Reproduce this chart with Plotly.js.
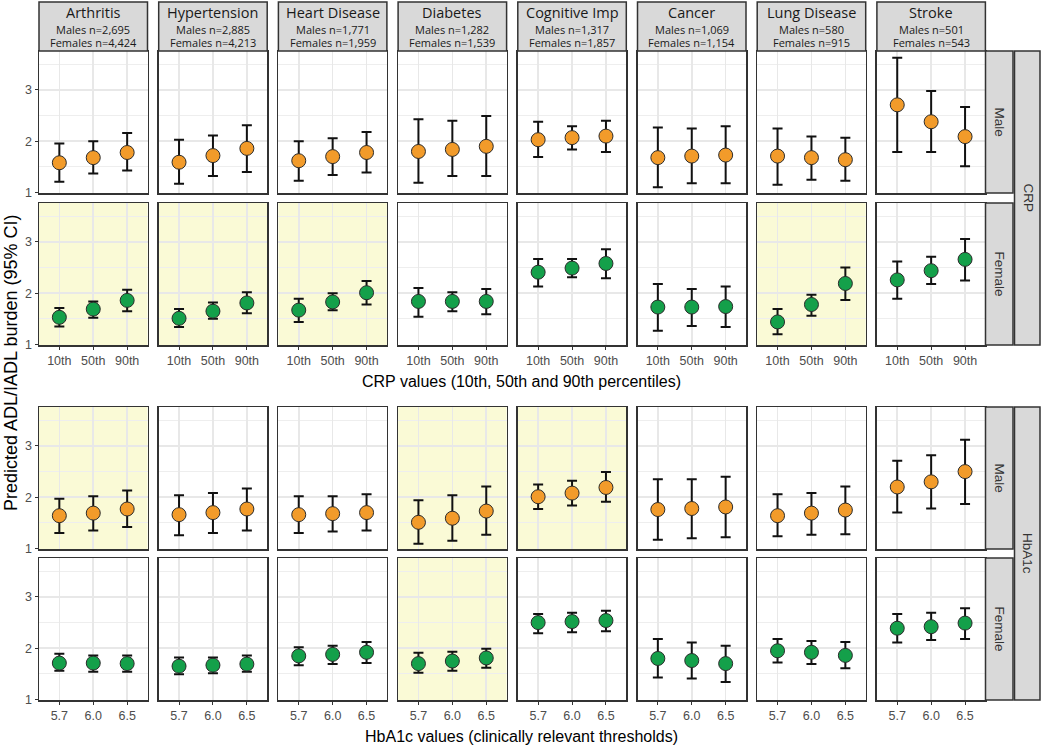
<!DOCTYPE html>
<html><head><meta charset="utf-8">
<script src="https://cdn.plot.ly/plotly-3.0.1.min.js"></script>
<style>html,body{margin:0;padding:0;background:#fff}#chart{width:1050px;height:746px}</style>
</head><body><div id="chart"></div>
<script>
const diseases = ['Arthritis','Hypertension','Heart Disease','Diabetes','Cognitive Imp','Cancer','Lung Disease','Stroke'];
const malesN = ['2,695','2,885','1,771','1,282','1,317','1,069','580','501'];
const femalesN = ['4,424','4,213','1,959','1,539','1,857','1,154','915','543'];
const crpLevels = ['10th','50th','90th'];
const hba1cLevels = ['5.7','6.0','6.5'];

// CRP, Male
const crpMaleEst = [[1.58,1.68,1.78],[1.59,1.72,1.86],[1.62,1.70,1.78],[1.80,1.84,1.90],[2.03,2.07,2.10],[1.68,1.71,1.73],[1.71,1.68,1.64],[2.71,2.38,2.09]];
const crpMaleLo  = [[1.21,1.37,1.43],[1.17,1.32,1.40],[1.23,1.34,1.39],[1.19,1.32,1.32],[1.69,1.84,1.79],[1.10,1.18,1.18],[1.15,1.25,1.23],[1.79,1.79,1.51]];
const crpMaleHi  = [[1.955,2.00,2.16],[2.03,2.11,2.31],[2.00,2.06,2.18],[2.43,2.40,2.49],[2.38,2.29,2.40],[2.27,2.25,2.29],[2.25,2.09,2.07],[3.63,2.98,2.67]];
// CRP, Female
const crpFemaleEst = [[1.53,1.69,1.86],[1.51,1.65,1.81],[1.67,1.83,2.01],[1.84,1.84,1.84],[2.41,2.49,2.58],[1.73,1.73,1.74],[1.44,1.78,2.19],[2.26,2.44,2.66]];
const crpFemaleLo  = [[1.35,1.52,1.65],[1.34,1.50,1.61],[1.44,1.67,1.78],[1.54,1.65,1.59],[2.13,2.31,2.29],[1.27,1.36,1.34],[1.20,1.56,1.87],[1.89,2.18,2.25]];
const crpFemaleHi  = [[1.71,1.84,2.07],[1.69,1.82,2.02],[1.89,2.00,2.24],[2.10,2.02,2.08],[2.67,2.67,2.86],[2.18,2.08,2.13],[1.69,1.97,2.50],[2.62,2.71,3.06]];
// HbA1c, Male
const hbMaleEst = [[1.64,1.69,1.77],[1.66,1.70,1.77],[1.66,1.68,1.70],[1.51,1.59,1.73],[2.01,2.08,2.19],[1.76,1.78,1.81],[1.64,1.69,1.75],[2.20,2.30,2.50]];
const hbMaleLo  = [[1.30,1.35,1.42],[1.26,1.30,1.35],[1.30,1.33,1.35],[1.09,1.15,1.27],[1.77,1.84,1.91],[1.17,1.20,1.22],[1.24,1.27,1.28],[1.70,1.78,1.87]];
const hbMaleHi  = [[1.97,2.02,2.13],[2.04,2.08,2.17],[2.02,2.02,2.06],[1.94,2.04,2.21],[2.25,2.32,2.49],[2.35,2.35,2.40],[2.06,2.08,2.21],[2.71,2.82,3.12]];
// HbA1c, Female
const hbFemaleEst = [[1.71,1.71,1.70],[1.65,1.67,1.69],[1.85,1.88,1.92],[1.70,1.75,1.81],[2.50,2.52,2.54],[1.80,1.76,1.70],[1.95,1.92,1.86],[2.39,2.42,2.49]];
const hbFemaleLo  = [[1.56,1.54,1.54],[1.49,1.51,1.54],[1.67,1.69,1.71],[1.52,1.56,1.62],[2.29,2.31,2.33],[1.43,1.41,1.34],[1.72,1.69,1.61],[2.11,2.16,2.18]];
const hbFemaleHi  = [[1.89,1.86,1.86],[1.82,1.82,1.86],[2.02,2.05,2.12],[1.91,1.93,1.99],[2.67,2.69,2.73],[2.18,2.11,2.05],[2.18,2.14,2.12],[2.67,2.69,2.78]];

const highlightCRPMale = [];
const highlightCRPFemale = ['Arthritis','Hypertension','Heart Disease','Lung Disease'];
const highlightHbMale = ['Arthritis','Diabetes','Cognitive Imp'];
const highlightHbFemale = ['Diabetes'];

const maleColor = '#F29B2A';
const femaleColor = '#14A04A';

const rows = [
  {group:'CRP', sex:'Male', est:crpMaleEst, lo:crpMaleLo, hi:crpMaleHi, levels:crpLevels, color:maleColor, hl:highlightCRPMale},
  {group:'CRP', sex:'Female', est:crpFemaleEst, lo:crpFemaleLo, hi:crpFemaleHi, levels:crpLevels, color:femaleColor, hl:highlightCRPFemale},
  {group:'HbA1c', sex:'Male', est:hbMaleEst, lo:hbMaleLo, hi:hbMaleHi, levels:hba1cLevels, color:maleColor, hl:highlightHbMale},
  {group:'HbA1c', sex:'Female', est:hbFemaleEst, lo:hbFemaleLo, hi:hbFemaleHi, levels:hba1cLevels, color:femaleColor, hl:highlightHbFemale}
];

const W = 1050, H = 746;
const colLeft0 = 39, colStep = 119.7, colW = 108.5;
const rowTops = [51, 203, 407, 558], rowH = 142;
const px = v => v / W, py = v => 1 - v / H;

const traces = [], shapes = [], annotations = [];
const layout = {
  width: W, height: H, margin:{l:0,r:0,t:0,b:0},
  paper_bgcolor:'#ffffff', plot_bgcolor:'#ffffff', showlegend:false,
  font:{family:'Liberation Sans, Arial, sans-serif', color:'#4D4D4D'}
};
const gridC = '#E8E8E8';
const tickFont = {family:'Liberation Sans, Arial, sans-serif', size:12.5, color:'#4D4D4D'};
const stripFont = 'Open Sans, Noto Sans, sans-serif';
function ann(x, y, text, font, extra) {
  return Object.assign({xref:'paper', yref:'paper', x:px(x), y:py(y), text:text, showarrow:false,
    xanchor:'center', yanchor:'middle', borderpad:0, font:font}, extra || {});
}

rows.forEach((row, r) => {
  diseases.forEach((d, c) => {
    const k = r * 8 + c + 1;
    const xs = k === 1 ? '' : String(k);
    const est = row.est[c], lo = row.lo[c], hi = row.hi[c];
    traces.push({
      type:'scatter', mode:'markers', x: row.levels, y: est,
      xaxis:'x'+xs, yaxis:'y'+xs, hoverinfo:'skip',
      marker:{size:14, color:row.color, line:{color:'#2b2b2b', width:1}},
      error_y:{type:'data', symmetric:false,
        array: est.map((v,i)=>hi[i]-v), arrayminus: est.map((v,i)=>v-lo[i]),
        color:'#111111', thickness:2, width:5}
    });
    const x0 = colLeft0 + c * colStep, x1 = x0 + colW;
    const top = rowTops[r], bot = top + rowH;
    const bottomRow = (r === 1 || r === 3);
    layout['xaxis'+xs] = {
      domain:[px(x0), px(x1)], anchor:'y'+xs, type:'category',
      categoryorder:'array', categoryarray: row.levels,
      range:[-0.6, 2.6], showgrid:true, gridcolor:gridC, gridwidth:1.6,
      showline:true, mirror:true, linecolor:'#333333', linewidth:1.5,
      zeroline:false, fixedrange:true,
      showticklabels: bottomRow, ticks: bottomRow ? 'outside' : '', ticklen:3, tickcolor:'#333333', tickwidth:1,
      tickfont: tickFont
    };
    layout['yaxis'+xs] = {
      domain:[py(bot), py(top)], anchor:'x'+xs,
      range:[0.99, 3.76], tickvals:[1,2,3], ticktext:['1','2','3'],
      showgrid:true, gridcolor:gridC, gridwidth:1.6,
      minor:{tickvals:[1.5,2.5,3.5], showgrid:true, gridcolor:'#EEEEEE', gridwidth:1, ticks:''},
      showline:true, mirror:true, linecolor:'#333333', linewidth:1.5,
      zeroline:false, fixedrange:true,
      showticklabels: c === 0, ticks: c === 0 ? 'outside' : '', ticklen:3, tickcolor:'#333333', tickwidth:1,
      tickfont: tickFont
    };
    if (row.hl.indexOf(d) >= 0) {
      shapes.push({type:'rect', xref:'x'+xs+' domain', yref:'y'+xs+' domain', x0:0, x1:1, y0:0, y1:1,
        fillcolor:'#FAFAD6', line:{width:0}, layer:'below'});
    }
  });
  // row strip (Male / Female)
  const top = rowTops[r], bot = top + rowH;
  shapes.push({type:'rect', xref:'paper', yref:'paper', x0:px(985.5), x1:px(1013), y0:py(bot), y1:py(top),
    fillcolor:'#D9D9D9', line:{color:'#333333', width:1.5}});
  annotations.push(ann(999.5, (top+bot)/2, row.sex, {family:'Liberation Sans, Arial, sans-serif', size:13.5, color:'#333333'}, {textangle:90}));
});

// outer group strips
[['CRP', rowTops[0], rowTops[1]+rowH], ['HbA1c', rowTops[2], rowTops[3]+rowH]].forEach(g => {
  shapes.push({type:'rect', xref:'paper', yref:'paper', x0:px(1014.5), x1:px(1040), y0:py(g[2]), y1:py(g[1]),
    fillcolor:'#D9D9D9', line:{color:'#333333', width:1.5}});
  annotations.push(ann(1027.5, (g[1]+g[2])/2, g[0], {family:'Liberation Sans, Arial, sans-serif', size:13.5, color:'#333333'}, {textangle:90}));
});

// column header strips
diseases.forEach((d, c) => {
  const x0 = colLeft0 + c * colStep, x1 = x0 + colW, xc = (x0 + x1) / 2;
  shapes.push({type:'rect', xref:'paper', yref:'paper', x0:px(x0), x1:px(x1), y0:py(51), y1:py(2),
    fillcolor:'#D9D9D9', line:{color:'#333333', width:1.5}});
  annotations.push(ann(xc, 12.5, d, {family:stripFont, size:14.5, color:'#1A1A1A'}));
  annotations.push(ann(xc, 29, 'Males n='+malesN[c], {family:stripFont, size:11, color:'#1A1A1A'}));
  annotations.push(ann(xc, 42.5, 'Females n='+femalesN[c], {family:stripFont, size:11, color:'#1A1A1A'}));
});

// axis titles
const titleFont = {family:'Liberation Sans, Arial, sans-serif', size:16, color:'#000000'};
annotations.push(ann(521, 381, 'CRP values (10th, 50th and 90th percentiles)', titleFont));
annotations.push(ann(521, 736, 'HbA1c values (clinically relevant thresholds)', titleFont));
annotations.push(ann(11, 363, 'Predicted ADL/IADL burden (95% CI)',
  {family:'Liberation Sans, Arial, sans-serif', size:18, color:'#000000'}, {textangle:-90}));

layout.shapes = shapes;
layout.annotations = annotations;
Plotly.newPlot('chart', traces, layout, {displayModeBar:false, staticPlot:true});
</script>
</body></html>
